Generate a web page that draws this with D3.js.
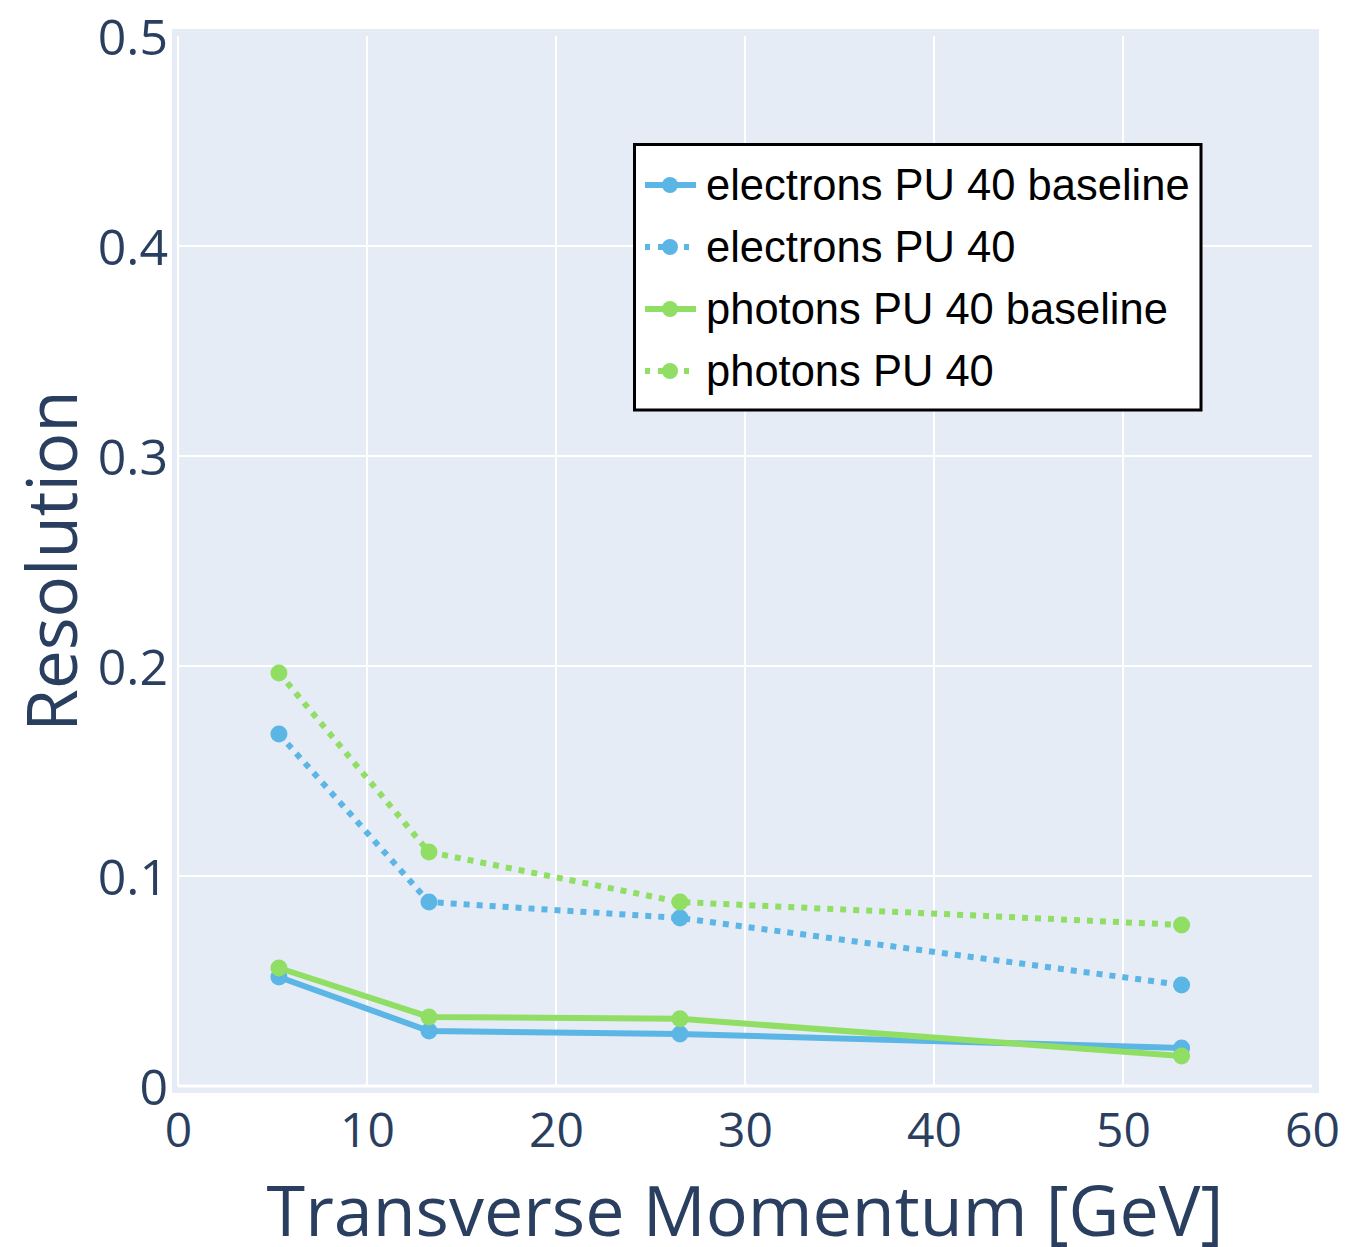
<!DOCTYPE html>
<html><head>
<meta charset="utf-8">
<title>Resolution vs transverse momentum</title>
<script src="https://d3js.org/d3.v7.min.js"></script>
<style>
  body { margin: 0; background: #fff; }
  svg { display: block; }
</style>
</head>
<body>
<svg width="1348" height="1247"></svg>
<script>
// data
var ptBins = [5.34, 13.28, 26.56, 53.1];
var seriesNames = ["electrons PU 40 baseline", "electrons PU 40", "photons PU 40 baseline", "photons PU 40"];
var electronsBaseline = [0.0519, 0.0262, 0.0248, 0.0181];
var electronsPU40 = [0.1676, 0.0876, 0.0800, 0.0481];
var photonsBaseline = [0.0562, 0.0329, 0.0320, 0.0143];
var photonsPU40 = [0.1967, 0.1114, 0.0876, 0.0767];
var xTicks = [0, 10, 20, 30, 40, 50, 60];
var yTicks = [0, 0.1, 0.2, 0.3, 0.4, 0.5];

var blue = "#5bb5e5", green = "#90de64";
var series = [
  { name: seriesNames[0], values: electronsBaseline, color: blue, dash: null },
  { name: seriesNames[1], values: electronsPU40, color: blue, dash: "6,7" },
  { name: seriesNames[2], values: photonsBaseline, color: green, dash: null },
  { name: seriesNames[3], values: photonsPU40, color: green, dash: "6,7" }
];

const svg = d3.select("svg");
var x = d3.scaleLinear().domain([0, 60]).range([178, 1312]);
var y = d3.scaleLinear().domain([0, 0.5]).range([1086, 36]);
var tickFont = "'Open Sans', verdana, arial, sans-serif";
var axisColor = "#2a3f5f";

// plot background
svg.append("rect")
  .attr("x", 172).attr("y", 29)
  .attr("width", 1319 - 172).attr("height", 1093 - 29)
  .attr("fill", "#e5ecf6");

// grid (none drawn on the far edges)
svg.append("g").selectAll("line.vg")
  .data(xTicks.filter(d => d < 60)).enter().append("line")
  .attr("x1", d => x(d)).attr("x2", d => x(d))
  .attr("y1", y(0.5)).attr("y2", y(0))
  .attr("stroke", "#fff").attr("stroke-width", 2);
svg.append("g").selectAll("line.hg")
  .data(yTicks.filter(d => d < 0.5)).enter().append("line")
  .attr("x1", x(0)).attr("x2", x(60))
  .attr("y1", d => y(d)).attr("y2", d => y(d))
  .attr("stroke", "#fff").attr("stroke-width", d => d === 0 ? 3 : 2);

// axes (labels only, plotly style)
var xAxis = svg.append("g")
  .attr("transform", "translate(0," + 1147 + ")")
  .call(d3.axisBottom(x).tickValues(xTicks).tickSize(0).tickPadding(0).tickFormat(d3.format("d")));
xAxis.select(".domain").remove();
xAxis.selectAll("text")
  .attr("dy", 0).attr("y", 0)
  .style("font-family", tickFont).style("font-size", "48px").attr("fill", axisColor);

var yAxis = svg.append("g")
  .attr("transform", "translate(168,0)")
  .call(d3.axisLeft(y).tickValues(yTicks).tickSize(0).tickPadding(0).tickFormat(d => d === 0 ? "0" : d3.format(".1f")(d)));
yAxis.select(".domain").remove();
yAxis.selectAll("text")
  .attr("dy", "0.36em")
  .style("font-family", tickFont).style("font-size", "50px").attr("fill", axisColor);

// axis titles
svg.append("text")
  .attr("x", x(30)).attr("y", 1236)
  .attr("text-anchor", "middle")
  .style("font-family", tickFont).style("font-size", "70px").attr("fill", axisColor)
  .text("Transverse Momentum [GeV]");
svg.append("text")
  .attr("transform", "translate(77," + y(0.25) + ") rotate(-90)")
  .attr("text-anchor", "middle")
  .style("font-family", tickFont).style("font-size", "69px").attr("fill", axisColor)
  .text("Resolution");

// lines + markers
var line = d3.line().x((d, i) => x(ptBins[i])).y(d => y(d));
var traces = svg.append("g").selectAll("g.trace")
  .data(series).enter().append("g");
traces.append("path")
  .attr("d", d => line(d.values))
  .attr("fill", "none")
  .attr("stroke", d => d.color)
  .attr("stroke-width", 6)
  .attr("stroke-dasharray", d => d.dash);
traces.selectAll("circle")
  .data(d => d.values.map(v => ({ v: v, color: d.color })))
  .enter().append("circle")
  .attr("cx", (d, i) => x(ptBins[i]))
  .attr("cy", d => y(d.v))
  .attr("r", 8.5)
  .attr("fill", d => d.color);

// legend
var legend = svg.append("g");
legend.append("rect")
  .attr("x", 634.5).attr("y", 144.5)
  .attr("width", 1201 - 634.5).attr("height", 410 - 144.5)
  .attr("fill", "#fff").attr("stroke", "#000").attr("stroke-width", 3);
var rows = legend.selectAll("g.row")
  .data(series).enter().append("g")
  .attr("transform", (d, i) => "translate(0," + (185 + i * 62) + ")");
rows.append("line")
  .attr("x1", 645).attr("x2", 696).attr("y1", 0).attr("y2", 0)
  .attr("stroke", d => d.color).attr("stroke-width", 6)
  .attr("stroke-dasharray", d => d.dash ? "5,8" : null);
rows.append("circle")
  .attr("cx", 670).attr("cy", 0).attr("r", 8)
  .attr("fill", d => d.color);
rows.append("text")
  .attr("x", 706).attr("y", 15)
  .style("font-family", "'Liberation Sans', Arial, sans-serif")
  .style("font-size", "43.5px").attr("fill", "#000")
  .text(d => d.name);
</script>
</body>
</html>
